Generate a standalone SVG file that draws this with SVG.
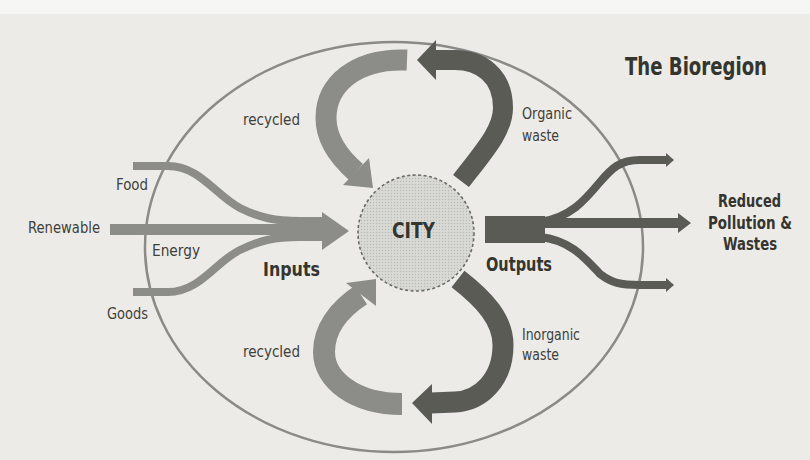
<svg xmlns="http://www.w3.org/2000/svg" width="810" height="460" viewBox="0 0 810 460">
  <defs>
    <pattern id="dots" width="3" height="3" patternUnits="userSpaceOnUse">
      <rect width="3" height="3" fill="#d9d9d6"/>
      <circle cx="1.5" cy="1.5" r="0.7" fill="#b8b8b4"/>
    </pattern>
    <style>
      .lbl { font-family: "Liberation Sans Narrow", "DejaVu Sans Condensed", "Liberation Sans", sans-serif; font-size: 16px; fill: #404039; }
      .bold { font-family: "Liberation Sans Narrow", "DejaVu Sans Condensed", "Liberation Sans", sans-serif; font-weight: bold; fill: #35352f; }
      .in { fill: none; stroke: #8c8c89; stroke-linecap: butt; stroke-linejoin: round; }
      .out { fill: none; stroke: #5b5b56; stroke-linecap: butt; stroke-linejoin: round; }
      .inhead { fill: #8c8c89; }
      .outhead { fill: #5b5b56; }
    </style>
  </defs>

  <rect width="810" height="460" fill="#ecebe8"/>
  <rect width="810" height="14" fill="#f6f6f4"/>

  <g id="bioregion">
    <ellipse cx="394" cy="247" rx="249" ry="205" fill="none" stroke="#8a8a87" stroke-width="2.5"/>
    <text class="bold" x="625" y="75" font-size="24" textLength="142" lengthAdjust="spacingAndGlyphs">The Bioregion</text>
  </g>

  <g id="connectors">
    <g id="inputs">
      <path class="in" stroke-width="8" d="M133,166 L168,166 C200,166 215,195 240,208 C260,218 275,221 300,221 L325,221"/>
      <path class="in" stroke-width="8" d="M133,292 L168,292 C200,292 215,262 240,250 C260,240 275,237 300,237 L325,237"/>
      <path class="in" stroke-width="11" d="M110,229.5 L325,229.5"/>
      <polygon class="inhead" points="322,212 349,231 322,250"/>
    </g>
    <g id="outputs">
      <rect x="485" y="216" width="60" height="27" fill="#5b5b56"/>
      <path class="out" stroke-width="8" d="M540,222 C570,218 585,200 600,182 C612,168 620,160 640,160 L668,160"/>
      <path class="out" stroke-width="8" d="M540,237 C570,240 585,258 600,274 C612,283 620,285 640,285 L668,285"/>
      <path class="out" stroke-width="10" d="M540,223 L679,223"/>
      <polygon class="outhead" points="666,153 674,160 666,167"/>
      <polygon class="outhead" points="666,278 674,285 666,292"/>
      <polygon class="outhead" points="678,213 691,223 678,233"/>
    </g>
    <g id="recycled-top">
      <path class="in" stroke-width="21" d="M407,60 C355,58 326,85 326,118 C326,140 340,158 356,172"/>
      <polygon class="inhead" points="369,158 343,185 373,188"/>
    </g>
    <g id="organic-waste">
      <path class="out" stroke-width="20" d="M461,181 C485,150 503,130 503,108 C503,75 480,60 455,60 L435,60"/>
      <polygon class="outhead" points="436,40 436,80 417,60"/>
    </g>
    <g id="recycled-bottom">
      <path class="in" stroke-width="22" d="M402,404 C355,404 324,380 324,352 C324,330 338,310 361,295"/>
      <polygon class="inhead" points="346,283 376,306 376,279"/>
    </g>
    <g id="inorganic-waste">
      <path class="out" stroke-width="21" d="M458,279 C485,300 503,320 503,345 C503,380 480,401 455,402 L431,403"/>
      <polygon class="outhead" points="432,384 432,424 412,403"/>
    </g>
  </g>

  <g id="city">
    <circle cx="416" cy="233" r="58" fill="url(#dots)" stroke="#6b6b66" stroke-width="1.6" stroke-dasharray="3 2.5"/>
    <text class="bold" x="392" y="238" font-size="21" textLength="43" lengthAdjust="spacingAndGlyphs">CITY</text>
  </g>

  <g id="labels">
    <text class="lbl" x="116" y="190" textLength="32" lengthAdjust="spacingAndGlyphs">Food</text>
    <text class="lbl" x="28" y="233" textLength="72" lengthAdjust="spacingAndGlyphs">Renewable</text>
    <text class="lbl" x="152" y="256" textLength="48" lengthAdjust="spacingAndGlyphs">Energy</text>
    <text class="lbl" x="107" y="319" textLength="41" lengthAdjust="spacingAndGlyphs">Goods</text>
    <text class="bold" x="263" y="276" font-size="19" textLength="57" lengthAdjust="spacingAndGlyphs">Inputs</text>
    <text class="bold" x="486" y="271" font-size="19" textLength="66" lengthAdjust="spacingAndGlyphs">Outputs</text>
    <text class="lbl" x="243" y="125" textLength="57" lengthAdjust="spacingAndGlyphs">recycled</text>
    <text class="lbl" x="522" y="119" textLength="50" lengthAdjust="spacingAndGlyphs">Organic</text>
    <text class="lbl" x="522" y="141" textLength="37" lengthAdjust="spacingAndGlyphs">waste</text>
    <text class="lbl" x="243" y="357" textLength="57" lengthAdjust="spacingAndGlyphs">recycled</text>
    <text class="lbl" x="522" y="340" textLength="58" lengthAdjust="spacingAndGlyphs">Inorganic</text>
    <text class="lbl" x="522" y="360" textLength="37" lengthAdjust="spacingAndGlyphs">waste</text>
    <text class="bold" x="718" y="207" font-size="18" textLength="63" lengthAdjust="spacingAndGlyphs">Reduced</text>
    <text class="bold" x="708" y="229" font-size="18" textLength="84" lengthAdjust="spacingAndGlyphs">Pollution &amp;</text>
    <text class="bold" x="723" y="250" font-size="18" textLength="54" lengthAdjust="spacingAndGlyphs">Wastes</text>
  </g>
</svg>
